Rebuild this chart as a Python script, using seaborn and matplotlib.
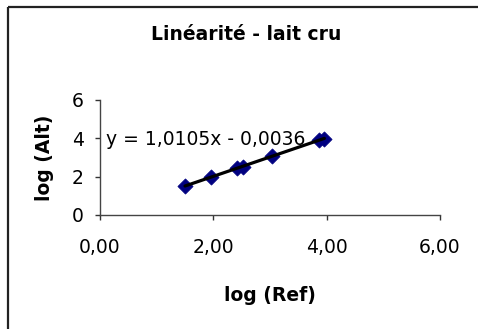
import matplotlib
matplotlib.use("Agg")
import matplotlib.pyplot as plt
from matplotlib.lines import Line2D
from matplotlib.ticker import FuncFormatter
import numpy as np
import pandas as pd
import seaborn as sns

# Log-transformed results: reference method vs alternative method
log_ref = [1.50, 1.95, 2.42, 2.53, 3.04, 3.86, 3.96]
log_alt = [1.52, 1.97, 2.44, 2.53, 3.07, 3.90, 3.99]

# Linear trendline coefficients
slope = 1.0105
intercept = -0.0036

title = "Linéarité - lait cru"
xlabel = "log (Ref)"
ylabel = "log (Alt)"
x_ticks = [0, 2, 4, 6]
y_ticks = [0, 2, 4, 6]

sns.set_theme(style="white")
plt.rcParams["font.family"] = ["DejaVu Sans"]
plt.rcParams["text.color"] = "black"
plt.rcParams["axes.labelcolor"] = "black"

fig = plt.figure(figsize=(4.78, 3.29), dpi=100)
ax = fig.add_axes([100 / 478, 1 - 215 / 329, 340 / 478, 115 / 329])

df = pd.DataFrame({"ref": log_ref, "alt": log_alt})
xs = np.array([min(log_ref), max(log_ref)])
trend = pd.DataFrame({"ref": xs, "alt": slope * xs + intercept})

sns.lineplot(data=trend, x="ref", y="alt", ax=ax, color="black", linewidth=2.3, zorder=3)
sns.scatterplot(data=df, x="ref", y="alt", ax=ax, marker="D", s=60,
                color="#000080", edgecolor="#000080", linewidth=0.5, zorder=2)

ax.set_xlim(0, 6)
ax.set_ylim(0, 6)
ax.set_xticks(x_ticks)
ax.set_yticks(y_ticks)
ax.xaxis.set_major_formatter(FuncFormatter(lambda v, p: f"{v:.2f}".replace(".", ",")))
ax.yaxis.set_major_formatter(FuncFormatter(lambda v, p: f"{v:.0f}"))

for side in ("top", "right"):
    ax.spines[side].set_visible(False)
for side in ("left", "bottom"):
    ax.spines[side].set_color("#444444")
    ax.spines[side].set_linewidth(1.0)

ax.tick_params(axis="both", which="major", direction="out", length=3.6, width=1.0,
               color="#333333", labelsize=13.5, labelcolor="black", bottom=True, left=True)
ax.tick_params(axis="x", pad=13)
ax.tick_params(axis="y", pad=8)

ax.set_xlabel(xlabel, fontsize=13.5, fontweight="bold", labelpad=21, color="black")
ax.set_ylabel(ylabel, fontsize=13.5, fontweight="bold", labelpad=13, color="black")

ax.text(0.1, 3.95, f"y = {slope:.4f}x - {abs(intercept):.4f}".replace(".", ","),
        fontsize=13.5, ha="left", va="center", color="black", zorder=1)

fig.text(246 / 478, 1 - 40 / 329, title, ha="center", va="baseline",
         fontsize=13.5, fontweight="bold", color="black")

# Chart area border (left and top edges)
border = dict(transform=fig.transFigure, color="#222222", linewidth=1.6,
              solid_capstyle="butt")
fig.add_artist(Line2D([8 / 478, 8 / 478], [-0.05, 1 - 7 / 329], **border))
fig.add_artist(Line2D([8 / 478, 1.05], [1 - 7 / 329, 1 - 7 / 329], **border))

fig.savefig("out.png", dpi=100)
